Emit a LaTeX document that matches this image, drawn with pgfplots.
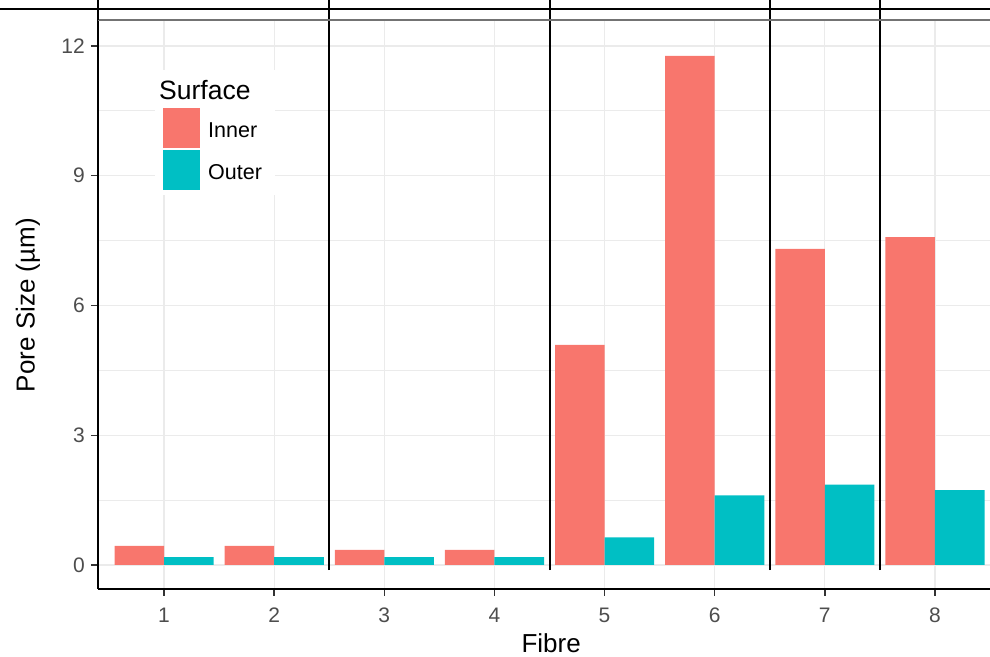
\documentclass[border=0pt]{standalone}
\usepackage{fontspec}
\setmainfont{Liberation Sans}
\usepackage{pgfplots}
\pgfplotsset{compat=1.18}

\definecolor{inner}{HTML}{F8766D}
\definecolor{outer}{HTML}{00BFC4}
\definecolor{gridgrey}{HTML}{EBEBEB}
\definecolor{ticktext}{HTML}{4D4D4D}

\pgfplotstableread{
fibre inner outer
1 0.44 0.18
2 0.44 0.18
3 0.35 0.18
4 0.35 0.18
5 5.09 0.64
6 11.77 1.61
7 7.31 1.86
8 7.58 1.73
}\poresizes

\begin{document}
\begin{tikzpicture}
\begin{axis}[
  scale only axis,
  width=892pt, height=569pt,
  xmin=0.4, xmax=8.5, ymin=-0.555, ymax=12.6,
  clip=false,
  axis x line*=bottom, axis y line*=left,
  axis line style={-, black, line width=1.8pt},
  xtick={1,...,8}, ytick={0,3,6,9,12},
  minor ytick={1.5,4.5,7.5,10.5},
  grid=both,
  major grid style={gridgrey, line width=1.2pt},
  minor grid style={gridgrey, line width=0.7pt},
  tick align=outside,
  major tick length=7pt, minor tick length=0pt,
  tick style={black!80, line width=1.4pt},
  /pgf/number format/assume math mode=true,
  ticklabel style={font=\fontsize{21}{21}\selectfont, text=ticktext, inner sep=0pt},
  xticklabel style={anchor=north, yshift=-12pt},
  yticklabel style={anchor=east, xshift=-6pt},
  xlabel={Fibre},
  ylabel={Pore Size (µm)},
  label style={font=\fontsize{26}{26}\selectfont, inner sep=0pt},
  xlabel style={at={(axis description cs:0.508,0)}, anchor=base, yshift=-64pt},
  ylabel style={at={(axis description cs:0,0.499)}, anchor=center, yshift=70pt},
  legend style={
    at={([shift={(65pt,-88pt)}]axis description cs:0,1)},
    anchor=north west, draw=none, fill=none, inner sep=0pt,
    row sep=2pt, column sep=8pt,
    font=\fontsize{21.5}{21.5}\selectfont,
    nodes={inner sep=0pt, anchor=west},
  },
  legend cell align=left,
]
  % white panel behind the legend
  \fill[white] ([shift={(57pt,-50pt)}]rel axis cs:0,1) rectangle ([shift={(177pt,-175pt)}]rel axis cs:0,1);

  \addplot[ybar, bar width=0.45, bar shift=-0.225, fill=inner, draw=none,
    legend image code/.code={\fill[inner] (0pt,-17pt) rectangle (37pt,23pt);}]
    table[x=fibre, y=inner] {\poresizes};
  \addlegendentry{Inner}
  \addplot[ybar, bar width=0.45, bar shift=0.225, fill=outer, draw=none,
    legend image code/.code={\fill[outer] (0pt,-17pt) rectangle (37pt,23pt);}]
    table[x=fibre, y=outer] {\poresizes};
  \addlegendentry{Outer}

  % separators between fibre groups
  \addplot[forget plot, black, line width=2pt] coordinates {(2.5,-0.12) (2.5,13.3)};
  \addplot[forget plot, black, line width=2pt] coordinates {(4.5,-0.12) (4.5,13.3)};
  \addplot[forget plot, black, line width=2pt] coordinates {(6.5,-0.12) (6.5,13.3)};
  \addplot[forget plot, black, line width=2pt] coordinates {(7.5,-0.12) (7.5,13.3)};
  % frame lines along the top
  \addplot[forget plot, black!55, line width=2.2pt] coordinates {(0.4,12.6) (9,12.6)};
  \addplot[forget plot, black, line width=1.8pt] coordinates {(-1,12.855) (9,12.855)};
  \addplot[forget plot, black, line width=1.8pt] coordinates {(0.4,12.6) (0.4,13.3)};

  \node[anchor=base west, inner sep=0pt, font=\fontsize{26.5}{26.5}\selectfont]
    at ([shift={(61pt,-80pt)}]rel axis cs:0,1) {Surface};

  \coordinate (sw) at (rel axis cs:0,0);
  \coordinate (ne) at (rel axis cs:1,1);
\end{axis}
\pgfresetboundingbox
\path[use as bounding box] ([shift={(-98pt,-68pt)}]sw) rectangle ([shift={(0pt,20pt)}]ne);
\end{tikzpicture}
\end{document}
